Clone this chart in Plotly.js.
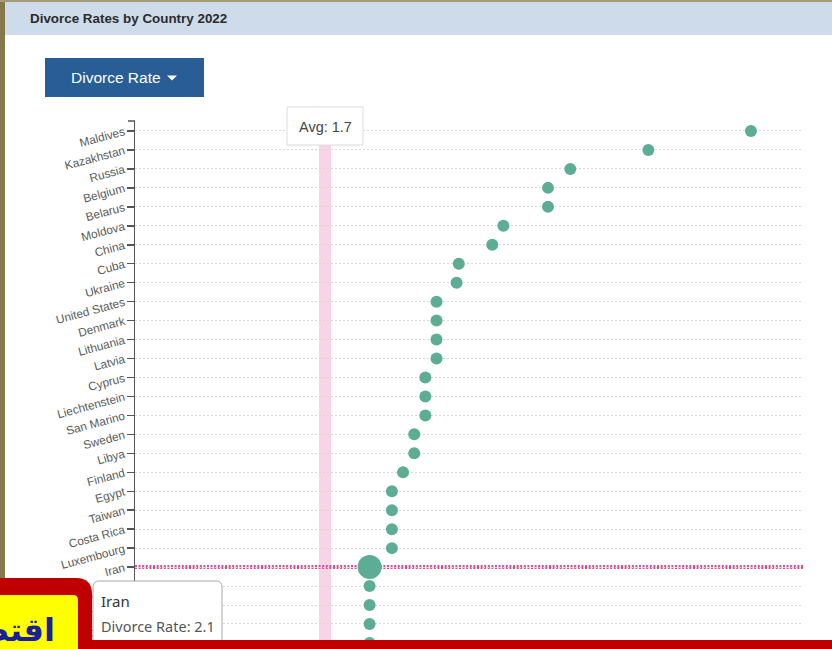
<!DOCTYPE html>
<html>
<head>
<meta charset="utf-8">
<script src="https://cdn.plot.ly/plotly-3.0.1.min.js"></script>
<style>
  html, body { margin: 0; padding: 0; background: #ffffff; overflow: hidden; }
  #chart { width: 832px; height: 649px; }
</style>
</head>
<body>
<div id="chart"></div>
<script>
// ---- data ----
const countries = [
  "Maldives", "Kazakhstan", "Russia", "Belgium", "Belarus", "Moldova", "China",
  "Cuba", "Ukraine", "United States", "Denmark", "Lithuania", "Latvia", "Cyprus",
  "Liechtenstein", "San Marino", "Sweden", "Libya", "Finland", "Egypt", "Taiwan",
  "Costa Rica", "Luxembourg", "Iran", "Georgia", "Czechia", "Portugal", "Jordan"
];
const rates = [
  5.52, 4.6, 3.9, 3.7, 3.7, 3.3, 3.2,
  2.9, 2.88, 2.7, 2.7, 2.7, 2.7, 2.6,
  2.6, 2.6, 2.5, 2.5, 2.4, 2.3, 2.3,
  2.3, 2.3, 2.1, 2.1, 2.1, 2.1, 2.1
];
const highlight = "Iran";
const avgValue = 1.7;
const titleText = "Divorce Rates by Country 2022";
const buttonText = "Divorce Rate";
const measureLabel = "Divorce Rate";
const bannerText = "اقتصاد";

// ---- geometry helpers (pixel -> paper) ----
const W = 832, H = 649, ML = 135, MR = 29, MT = 121, MB = 0;
const PW = W - ML - MR, PH = H - MT - MB;
const PX_PER_UNIT = 111.5;
const px = x => (x - ML) / PW;
const py = y => (H - MB - y) / PH;

function rect(x0, y0, x1, y1, fill, lineColor, lw, layer) {
  return {
    type: "rect", xref: "paper", yref: "paper",
    x0: px(x0), x1: px(x1), y0: py(y1), y1: py(y0),
    fillcolor: fill,
    line: { color: lineColor || fill, width: lw || 0 },
    layer: layer || "above"
  };
}
function roundPath(x0, y0, x1, y1, r, corners) {
  const [tl, tr, br, bl] = corners;
  const P = (x, y) => px(x) + "," + py(y);
  let d = "M" + P(x0, tl ? y0 + r : y0);
  if (tl) d += " Q" + P(x0, y0) + " " + P(x0 + r, y0);
  d += " L" + P(tr ? x1 - r : x1, y0);
  if (tr) d += " Q" + P(x1, y0) + " " + P(x1, y0 + r);
  d += " L" + P(x1, br ? y1 - r : y1);
  if (br) d += " Q" + P(x1, y1) + " " + P(x1 - r, y1);
  d += " L" + P(bl ? x0 + r : x0, y1);
  if (bl) d += " Q" + P(x0, y1) + " " + P(x0, y1 - r);
  d += " Z";
  return d;
}
function pathShape(d, fill, lineColor, lw) {
  return {
    type: "path", xref: "paper", yref: "paper", path: d,
    fillcolor: fill, line: { color: lineColor || fill, width: lw || 0 }, layer: "above"
  };
}
function ann(text, x, y, xanchor, size, color, family, extra) {
  return Object.assign({
    text: text, xref: "paper", yref: "paper", x: px(x), y: py(y),
    xanchor: xanchor, yanchor: "middle", showarrow: false,
    font: { size: size, color: color, family: family }
  }, extra || {});
}

const iranIdx = countries.indexOf(highlight);
const iranRate = rates[iranIdx];

const trace = {
  type: "scatter",
  mode: "markers",
  x: rates,
  y: countries,
  marker: {
    color: "#5dad95",
    opacity: 1,
    size: countries.map(c => c === highlight ? 24 : 12),
    line: { width: 0 }
  },
  opacity: 1,
  hoverinfo: "skip",
  cliponaxis: false
};

const sansUI = "Liberation Sans, Arial, sans-serif";
const tipFont = "Noto Sans, Open Sans, sans-serif";

const xStart = 1.7 - (325 - ML) / PX_PER_UNIT;

const shapes = [
  // page frame & header
  rect(5, 2, 832, 35, "#cddbea", null, 0, "below"),
  rect(0, 0, 5, 649, "#86784d", null, 0, "below"),
  rect(0, 0, 832, 2, "#a59b75", null, 0, "below"),
  // button
  rect(45, 58, 204, 97, "#285e95"),
  pathShape("M" + px(167) + "," + py(75.5) + " L" + px(177) + "," + py(75.5) + " L" + px(172) + "," + py(80.5) + " Z", "#ffffff"),
  // avg band
  {
    type: "rect", xref: "x", yref: "paper",
    x0: avgValue - 6 / PX_PER_UNIT, x1: avgValue + 6 / PX_PER_UNIT, y0: 0, y1: py(145),
    fillcolor: "#f9d3e6", line: { width: 0 }, layer: "below"
  },
  // avg label box
  rect(287, 107, 363, 145, "#ffffff", "#dcdcdc", 1),
  // highlight row line
  {
    type: "line", xref: "paper", yref: "y",
    x0: 0, x1: 1, y0: iranIdx, y1: iranIdx,
    line: { color: "#d4509a", width: 4, dash: "2px,1.6px" },
    layer: "between"
  },
  // top outer tick of axis
  {
    type: "line", xref: "paper", yref: "paper",
    x0: px(128), x1: px(135), y0: 1, y1: 1,
    line: { color: "#555555", width: 1.5 }, layer: "above"
  },
  // tooltip box
  pathShape(roundPath(93, 581, 222, 648, 6, [true, true, true, true]), "#ffffff", "#a8a8a8", 1),
  // red overlay
  pathShape(roundPath(0, 578, 92, 649, 16, [false, true, false, false]), "#c00000"),
  rect(0, 640, 832, 649, "#c00000"),
  pathShape(roundPath(0, 595, 78, 649, 5, [false, true, false, false]), "#ffff00")
];

const annotations = [
  ann(buttonText, 69, 78, "left", 15.5, "#ffffff", sansUI),
  ann("Avg: " + avgValue, 325, 127, "center", 14.5, "#444444", sansUI),
  ann(highlight, 99, 601, "left", 15, "#333333", tipFont),
  ann(measureLabel + ": " + iranRate, 99, 626, "left", 14.5, "#555555", tipFont),
  ann("<b>" + bannerText + "</b>", 57, 630, "right", 32, "#1b1f9a", "DejaVu Sans, sans-serif")
];

// tick labels: the last row sits beneath the bottom band, leave its label empty
const tickText = countries.map((c, i) => i === countries.length - 1 ? "" : c);

const layout = {
  width: W, height: H,
  margin: { l: ML, r: MR, t: MT, b: MB, pad: 0 },
  paper_bgcolor: "#ffffff",
  plot_bgcolor: "#ffffff",
  showlegend: false,
  hovermode: false,
  title: {
    text: "<b>" + titleText + "</b>",
    xref: "container", yref: "container",
    x: 30 / W, xanchor: "left",
    y: 1 - 18 / H, yanchor: "middle",
    font: { family: sansUI, size: 13.4, color: "#2b2b2b" }
  },
  xaxis: {
    range: [xStart, xStart + PW / PX_PER_UNIT],
    showgrid: false, zeroline: false, showline: false,
    showticklabels: false, ticks: "", fixedrange: true
  },
  yaxis: {
    type: "category",
    categoryorder: "array",
    categoryarray: countries,
    range: [27.32, -0.527],
    tickmode: "array",
    tickvals: countries,
    ticktext: tickText,
    showline: true, linecolor: "#555555", linewidth: 1.5,
    ticks: "outside", ticklen: 7, tickwidth: 1.5, tickcolor: "#555555",
    tickangle: -15,
    tickfont: { family: sansUI, size: 11.8, color: "#5a5a5a" },
    showgrid: true, gridcolor: "#d8d8d8", gridwidth: 1, griddash: "2px,2px",
    zeroline: false, fixedrange: true
  },
  shapes: shapes,
  annotations: annotations
};

Plotly.newPlot("chart", [trace], layout, { displayModeBar: false, staticPlot: true });
</script>
</body>
</html>
